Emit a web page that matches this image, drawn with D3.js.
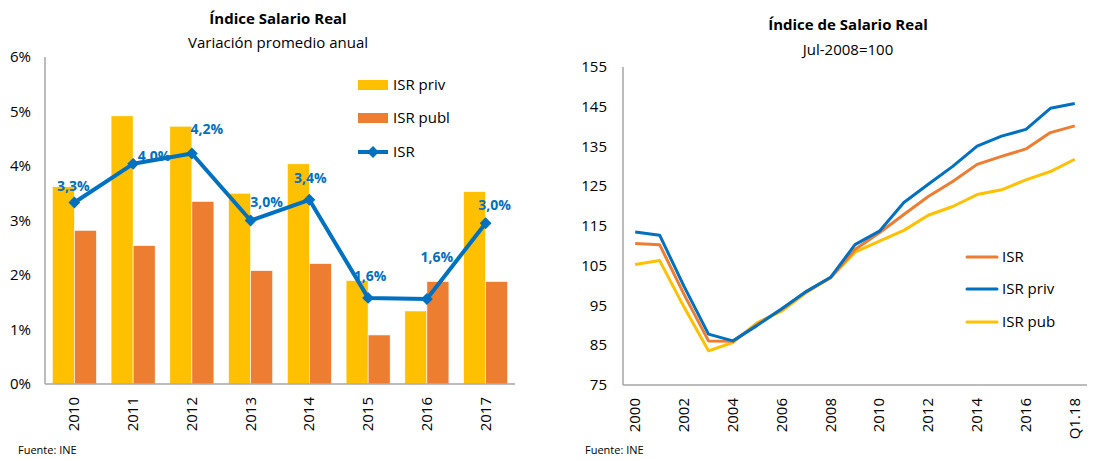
<!DOCTYPE html>
<html>
<head>
<meta charset="utf-8">
<script src="https://cdn.jsdelivr.net/npm/d3@7"></script>
<style>
    body { margin: 0; background: #fff; }
    text { font-family: "Open Sans", "Noto Sans", sans-serif; fill: #000; }
</style>
</head>
<body>
<svg id="mainsvg" width="1093" height="460"></svg>
<script>
// ---- left chart data (variación promedio anual, %) ----
let years = ["2010", "2011", "2012", "2013", "2014", "2015", "2016", "2017"];
let isrPriv = [3.62, 4.92, 4.73, 3.50, 4.04, 1.90, 1.34, 3.53];
let isrPubl = [2.82, 2.54, 3.35, 2.08, 2.21, 0.90, 1.88, 1.88];
let isrVar = [3.33, 4.04, 4.23, 3.00, 3.38, 1.58, 1.56, 2.95];
let isrVarLabels = ["3,3%", "4,0%", "4,2%", "3,0%", "3,4%", "1,6%", "1,6%", "3,0%"];
let pctTicks = [0, 1, 2, 3, 4, 5, 6];

// ---- right chart data (índice, Jul-2008=100) ----
let periods = ["2000", "2001", "2002", "2003", "2004", "2005", "2006", "2007", "2008",
    "2009", "2010", "2011", "2012", "2013", "2014", "2015", "2016", "2017", "Q1.18"];
let isrIdx = [110.6, 110.3, 97.8, 86.1, 86.0, 90.3, 94.0, 98.5, 102.0, 109.1,
    113.3, 117.9, 122.4, 126.2, 130.5, 132.5, 134.4, 138.5, 140.2];
let isrPrivIdx = [113.5, 112.7, 99.8, 87.8, 86.1, 90.0, 94.2, 98.5, 102.1, 110.3,
    113.7, 120.9, 125.5, 130.0, 135.1, 137.6, 139.3, 144.6, 145.8];
let isrPubIdx = [105.3, 106.3, 94.6, 83.6, 85.7, 90.7, 93.6, 98.2, 102.0, 108.4,
    111.2, 113.9, 117.7, 119.9, 122.9, 124.1, 126.6, 128.7, 131.8];
let periodTicks = ["2000", "2002", "2004", "2006", "2008", "2010", "2012", "2014", "2016", "Q1.18"];
let idxTicks = [75, 85, 95, 105, 115, 125, 135, 145, 155];

let YELLOW = "#FFC000", ORANGE = "#ED7D31", BLUE = "#0070C0", AXIS = "#A6A6A6";

let svg = d3.select("#mainsvg");

// label offsets relative to each ISR point (layout only)
let labelOffsets = [[-1, -17], [21, -8], [15, -24], [16, -19], [1, -22], [2, -22], [10, -42], [9, -18]];

function diamond() {
    return d3.symbol().type(d3.symbolDiamond2).size(90)();
}

function drawLeft() {
    let g = svg.append("g");
    let x = d3.scaleBand().domain(years).range([45, 515]).paddingInner(0.25).paddingOuter(0.125);
    let x1 = d3.scaleBand().domain(["priv", "publ"]).range([0, x.bandwidth()]);
    let y = d3.scaleLinear().domain([0, 6]).range([384, 57]);

    // titles
    g.append("text").attr("x", 278).attr("y", 24).attr("text-anchor", "middle")
        .style("font-weight", "bold").style("font-size", "15px").text("Índice Salario Real");
    g.append("text").attr("x", 278).attr("y", 48).attr("text-anchor", "middle")
        .style("font-size", "15px").text("Variación promedio anual");

    // y ticks
    g.selectAll(".ytick").data(pctTicks).enter().append("text")
        .attr("x", 31).attr("y", d => y(d) + 5).attr("text-anchor", "end")
        .style("font-size", "15px").text(d => d + "%");

    // bars
    let groups = g.selectAll(".grp").data(years).enter().append("g")
        .attr("transform", d => "translate(" + x(d) + ",0)");
    groups.append("rect").attr("x", x1("priv")).attr("width", x1.bandwidth())
        .attr("y", (d, i) => y(isrPriv[i])).attr("height", (d, i) => y(0) - y(isrPriv[i]))
        .attr("fill", YELLOW).attr("stroke", "#fff").attr("stroke-width", 0.6);
    groups.append("rect").attr("x", x1("publ")).attr("width", x1.bandwidth())
        .attr("y", (d, i) => y(isrPubl[i])).attr("height", (d, i) => y(0) - y(isrPubl[i]))
        .attr("fill", ORANGE).attr("stroke", "#fff").attr("stroke-width", 0.6);

    // axes lines
    g.append("line").attr("x1", 45).attr("x2", 45).attr("y1", y(6)).attr("y2", y(0))
        .attr("stroke", AXIS).attr("stroke-width", 1.5);
    g.append("line").attr("x1", 45).attr("x2", 515).attr("y1", y(0)).attr("y2", y(0))
        .attr("stroke", AXIS).attr("stroke-width", 1.5);

    // x labels
    g.selectAll(".xlab").data(years).enter().append("text")
        .attr("transform", d => "translate(" + (x(d) + x.bandwidth() / 2 + 5) + "," + (y(0) + 13) + ") rotate(-90)")
        .attr("text-anchor", "end").style("font-size", "15px").text(d => d);

    // ISR line
    let cx = (d, i) => x(years[i]) + x.bandwidth() / 2;
    let line = d3.line().x(cx).y(d => y(d));
    g.append("path").datum(isrVar).attr("d", line).attr("fill", "none")
        .attr("stroke", BLUE).attr("stroke-width", 4).attr("stroke-linejoin", "round");
    g.selectAll(".mk").data(isrVar).enter().append("path")
        .attr("d", diamond())
        .attr("transform", (d, i) => "translate(" + cx(d, i) + "," + y(d) + ")")
        .attr("fill", BLUE);
    g.selectAll(".lbl").data(isrVar).enter().append("text")
        .attr("x", (d, i) => cx(d, i) + labelOffsets[i][0])
        .attr("y", (d, i) => y(d) + labelOffsets[i][1] + 5)
        .attr("text-anchor", "middle").style("font-size", "14px").style("font-weight", "bold")
        .style("fill", BLUE).text((d, i) => isrVarLabels[i]);

    // legend
    let lg = g.append("g").attr("transform", "translate(358,0)");
    lg.append("rect").attr("x", 0).attr("y", 80).attr("width", 30).attr("height", 10).attr("fill", YELLOW);
    lg.append("text").attr("x", 35).attr("y", 90).style("font-size", "15px").text("ISR priv");
    lg.append("rect").attr("x", 0).attr("y", 113).attr("width", 30).attr("height", 10).attr("fill", ORANGE);
    lg.append("text").attr("x", 35).attr("y", 123).style("font-size", "15px").text("ISR publ");
    lg.append("line").attr("x1", 0).attr("x2", 30).attr("y1", 152).attr("y2", 152)
        .attr("stroke", BLUE).attr("stroke-width", 4);
    lg.append("path").attr("d", diamond())
        .attr("transform", "translate(15,152)").attr("fill", BLUE);
    lg.append("text").attr("x", 35).attr("y", 157).style("font-size", "15px").text("ISR");

    g.append("text").attr("x", 18).attr("y", 454).style("font-size", "11px").text("Fuente: INE");
}

function drawRight() {
    let g = svg.append("g");
    let x = d3.scalePoint().domain(periods).range([623, 1087]).padding(0.5);
    let y = d3.scaleLinear().domain([75, 155]).range([385, 67]);

    g.append("text").attr("x", 848).attr("y", 30).attr("text-anchor", "middle")
        .style("font-weight", "bold").style("font-size", "15px").text("Índice de Salario Real");
    g.append("text").attr("x", 848).attr("y", 55).attr("text-anchor", "middle")
        .style("font-size", "15px").text("Jul-2008=100");

    g.selectAll(".ytick").data(idxTicks).enter().append("text")
        .attr("x", 607).attr("y", d => y(d) + 5).attr("text-anchor", "end")
        .style("font-size", "15px").text(d => d);

    g.append("line").attr("x1", 623).attr("x2", 623).attr("y1", y(155)).attr("y2", y(75))
        .attr("stroke", AXIS).attr("stroke-width", 1.5);
    g.append("line").attr("x1", 623).attr("x2", 1087).attr("y1", y(75)).attr("y2", y(75))
        .attr("stroke", AXIS).attr("stroke-width", 1.5);

    g.selectAll(".xlab").data(periodTicks).enter().append("text")
        .attr("transform", d => "translate(" + (x(d) + 5) + "," + (y(75) + 13) + ") rotate(-90)")
        .attr("text-anchor", "end").style("font-size", "15px").text(d => d);

    let series = [
        {name: "ISR pub", values: isrPubIdx, color: YELLOW},
        {name: "ISR", values: isrIdx, color: ORANGE},
        {name: "ISR priv", values: isrPrivIdx, color: BLUE}
    ];
    let line = d3.line().x((d, i) => x(periods[i])).y(d => y(d));
    g.selectAll(".ser").data(series).enter().append("path")
        .attr("d", d => line(d.values)).attr("fill", "none")
        .attr("stroke", d => d.color).attr("stroke-width", 3).attr("stroke-linejoin", "round");

    let legend = [
        {name: "ISR", color: ORANGE, y: 257},
        {name: "ISR priv", color: BLUE, y: 289},
        {name: "ISR pub", color: YELLOW, y: 322}
    ];
    let lg = g.selectAll(".leg").data(legend).enter().append("g");
    lg.append("line").attr("x1", 967).attr("x2", 997).attr("y1", d => d.y).attr("y2", d => d.y)
        .attr("stroke", d => d.color).attr("stroke-width", 3).attr("stroke-linecap", "round");
    lg.append("text").attr("x", 1002).attr("y", d => d.y + 5).style("font-size", "15px").text(d => d.name);

    g.append("text").attr("x", 585).attr("y", 454).style("font-size", "11px").text("Fuente: INE");
}

drawLeft();
drawRight();
</script>
</body>
</html>
